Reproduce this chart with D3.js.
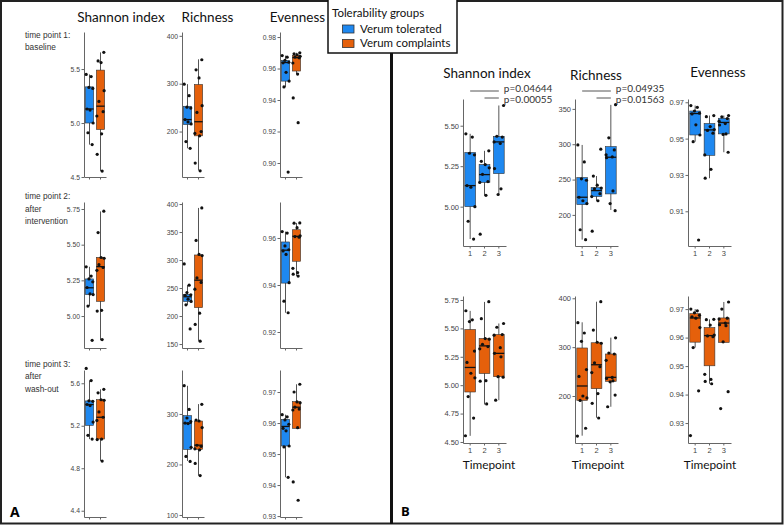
<!DOCTYPE html>
<html>
<head>
<meta charset="utf-8">
<script src="https://cdn.jsdelivr.net/npm/d3@7"></script>
<style>
  body { margin: 0; background: #fff; }
</style>
</head>
<body>
<svg id="fig" width="784" height="526"></svg>
<script>
var metrics = ["Shannon index", "Richness", "Evenness"];
var groups = ["Verum tolerated", "Verum complaints"];
var groupColors = ["#1E88F0", "#E5600B"];
var timepoints = ["1", "2", "3"];
var rowLabels = [
  ["time point 1:", "baseline"],
  ["time point 2:", "after", "intervention"],
  ["time point 3:", "after", "wash-out"]
];

// box stats per timepoint: [lower whisker, q1, median, q3, upper whisker]
var shannonTolBox = [[4.80, 5.00, 5.13, 5.335, 5.45], [5.07, 5.15, 5.198, 5.26, 5.345], [5.074, 5.204, 5.40, 5.434, 5.625]];
var shannonComBox = [[4.554, 4.94, 5.156, 5.49, 5.654], [4.83, 5.103, 5.346, 5.411, 5.733], [4.868, 5.075, 5.28, 5.446, 5.543]];
var richTolBox = [[165, 214.6, 225, 252.8, 299], [219.8, 226, 234.4, 238.7, 255], [207, 229.7, 281.6, 296.7, 355.7]];
var richComBox = [[118.8, 191, 220.5, 298.3, 350.9], [155.6, 215, 264, 309, 393], [178, 230, 238.2, 286, 319.5]];
var evenTolBox = [[0.9483, 0.952, 0.9638, 0.9652, 0.9682], [0.9282, 0.9408, 0.9548, 0.9583, 0.9627], [0.9425, 0.9526, 0.9589, 0.9612, 0.9627]];
var evenComBox = [[0.9565, 0.9584, 0.9669, 0.9684, 0.970], [0.9438, 0.9501, 0.9607, 0.9635, 0.9664], [0.9585, 0.9583, 0.9651, 0.9669, 0.9725]];

// single samples per timepoint
var shannonTolPts = [
  [5.45, 5.43, 5.33, 5.32, 5.13, 5.12, 5.00, 4.91, 4.80],
  [5.345, 5.28, 5.26, 5.24, 5.20, 5.155, 5.15, 5.07, 4.83],
  [5.74, 5.625, 5.435, 5.43, 5.40, 5.39, 5.235, 5.11, 5.075]
];
var shannonComPts = [
  [5.655, 5.575, 5.56, 5.30, 5.20, 5.105, 5.065, 4.90, 4.71, 4.555],
  [5.735, 5.585, 5.41, 5.405, 5.36, 5.34, 5.32, 5.04, 5.035, 4.835],
  [5.543, 5.51, 5.445, 5.44, 5.33, 5.28, 5.25, 5.075, 5.07, 4.868]
];
var richTolPts = [
  [299, 275, 251, 249, 225, 220, 216, 179, 165],
  [293, 255, 242, 238, 237, 230, 226, 220, 177],
  [356, 309, 292, 285, 282, 281, 234, 216, 206]
];
var richComPts = [
  [350, 329, 312, 254, 240, 200, 196, 191, 134, 118],
  [393, 335, 310, 308, 268, 260, 248, 205, 185, 155],
  [319, 288, 286, 273, 238, 236, 231, 229, 202, 178]
];
var evenTolPts = [
  [0.9682, 0.9672, 0.9652, 0.964, 0.9636, 0.9576, 0.952, 0.9483, 0.8942],
  [0.9627, 0.9621, 0.9566, 0.955, 0.9545, 0.953, 0.941, 0.9331, 0.9282],
  [0.9627, 0.962, 0.961, 0.9596, 0.9583, 0.9575, 0.9526, 0.9523, 0.9425]
];
var evenComPts = [
  [0.970, 0.9694, 0.9687, 0.9678, 0.9673, 0.9668, 0.9635, 0.9565, 0.9413, 0.9256],
  [0.9664, 0.9663, 0.9644, 0.9609, 0.9606, 0.9603, 0.9471, 0.9453, 0.9446, 0.9438],
  [0.9725, 0.970, 0.9668, 0.9665, 0.9651, 0.9645, 0.9642, 0.9585, 0.941, 0.9351]
];

// y limits and tick labels, panel A [timepoint][metric]
var aDomains = [
  [[4.5, 5.843], [105, 408], [0.8911, 0.9832]],
  [[4.776, 5.799], [142.9, 403.6], [0.9132, 0.9753]],
  [[4.341, 5.725], [96, 387], [0.9297, 0.9771]]
];
var aTicks = [
  [["4.5", "5.0", "5.5"], ["200", "300", "400"], ["0.90", "0.92", "0.94", "0.96", "0.98"]],
  [["5.00", "5.25", "5.50", "5.75"], ["150", "200", "250", "300", "350", "400"], ["0.92", "0.94", "0.96"]],
  [["4.4", "4.8", "5.2", "5.6"], ["100", "200", "300"], ["0.93", "0.94", "0.95", "0.96", "0.97"]]
];
// panel B [group][metric]
var bDomains = [
  [[4.757, 5.665], [156, 364], [0.8909, 0.9718]],
  [[4.491, 5.785], [103.8, 404.7], [0.923, 0.9746]]
];
var bTicks = [
  [["5.00", "5.25", "5.50"], ["200", "250", "300", "350"], ["0.91", "0.93", "0.95", "0.97"]],
  [["4.50", "4.75", "5.00", "5.25", "5.50", "5.75"], ["200", "300", "400"], ["0.93", "0.94", "0.95", "0.96", "0.97"]]
];
// pairwise tests shown for the tolerated group
var shannonSig = [["1", "3", "p=0.04644"], ["2", "3", "p=0.00055"]];
var richSig = [["1", "3", "p=0.04935"], ["2", "3", "p=0.01563"]];

var boxes = [[shannonTolBox, shannonComBox], [richTolBox, richComBox], [evenTolBox, evenComBox]];
var points = [[shannonTolPts, shannonComPts], [richTolPts, richComPts], [evenTolPts, evenComPts]];
var sigs = [shannonSig, richSig, null];

var svg = d3.select("#fig");
var jitter = [-0.3, 0.15, -0.05, 0.3, -0.22, 0.05, 0.33, -0.14, 0.24, -0.33, 0.1];

function drawPanel(o) {
  var g = svg.append("g");
  var y = d3.scaleLinear().domain(o.domain).range([o.bottom, o.top]);
  var x = d3.scaleBand().domain(o.cats).range([o.x0, o.x0 + o.width]);
  var step = x.bandwidth();
  var bw = step * 0.75;

  var ya = d3.axisLeft(y)
    .tickValues(o.ticks.map(Number))
    .tickFormat(function(d, i) { return o.ticks[i]; })
    .tickSize(2.5).tickSizeOuter(0).tickPadding(1.5);
  var xa = d3.axisBottom(x)
    .tickSize(2.5).tickSizeOuter(0).tickPadding(2)
    .tickFormat(function(d) { return o.xlabels ? d : ""; });

  var gy = g.append("g").attr("transform", "translate(" + o.x0 + ",0)").call(ya);
  var gx = g.append("g").attr("transform", "translate(0," + o.bottom + ")").call(xa);
  [gy, gx].forEach(function(a) {
    a.select(".domain").attr("stroke", "#666").attr("stroke-width", 1);
    a.selectAll(".tick line").attr("stroke", "#666");
    a.selectAll("text").attr("fill", "#444")
      .style("font-family", "'Liberation Sans', Arial, sans-serif")
      .style("font-size", o.fs + "px");
  });

  o.cats.forEach(function(c, i) {
    var b = o.boxes[i];
    var cx = x(c) + step / 2;
    var col = o.colors[i];
    g.append("line").attr("x1", cx).attr("x2", cx)
      .attr("y1", y(b[0])).attr("y2", y(b[4]))
      .attr("stroke", "#555").attr("stroke-width", 1);
    g.append("rect")
      .attr("x", cx - bw / 2).attr("width", bw)
      .attr("y", y(b[3])).attr("height", y(b[1]) - y(b[3]))
      .attr("fill", col).attr("stroke", "#333").attr("stroke-width", 0.6);
    g.append("line").attr("x1", cx - bw / 2).attr("x2", cx + bw / 2)
      .attr("y1", y(b[2])).attr("y2", y(b[2]))
      .attr("stroke", "#111").attr("stroke-width", 1.3);

    var pts = o.points[i].filter(function(v) {
      return !o.clip || (v >= o.domain[0] && v <= o.domain[1]);
    });
    g.selectAll(null).data(pts).enter().append("circle")
      .attr("cx", function(d, k) { return cx + jitter[(k + i * 3) % jitter.length] * step; })
      .attr("cy", function(d) { return y(d); })
      .attr("r", 1.6)
      .attr("fill", "#111");
  });

  if (o.sig) {
    o.sig.forEach(function(s, k) {
      var ly = o.top - 8 + k * 7;
      var xa1 = x(s[0]) + step / 2, xa2 = x(s[1]) + step / 2;
      g.append("line").attr("x1", xa1).attr("x2", xa2)
        .attr("y1", ly).attr("y2", ly)
        .attr("stroke", "#555").attr("stroke-width", 1);
      g.append("text").attr("x", xa2 + 5).attr("y", ly + (k === 0 ? 1 : 5))
        .attr("fill", "#333")
        .style("font-family", "Lato, sans-serif").style("font-size", "10px")
        .text(s[2]);
    });
  }
  return g;
}

// frame and divider
svg.append("rect").attr("x", 1).attr("y", 1).attr("width", 781.5).attr("height", 522.5)
  .attr("fill", "none").attr("stroke", "#222").attr("stroke-width", 2);
svg.append("line").attr("x1", 391.5).attr("x2", 391.5).attr("y1", 53).attr("y2", 524)
  .attr("stroke", "#111").attr("stroke-width", 3);

var titleFont = "Lato, 'Open Sans', sans-serif";

// panel A: rows = timepoints, columns = metrics, two groups per plot
var aAxisX = [84, 182, 280];
var aRows = [[32, 177], [202, 348], [370, 517]];
var aTitleX = [121, 207.5, 297.5];
var aLabelY = [37.7, 199.3, 366.7];

metrics.forEach(function(m, j) {
  svg.append("text").attr("x", aTitleX[j]).attr("y", 22)
    .attr("text-anchor", "middle").attr("fill", "#111")
    .style("font-family", titleFont).style("font-size", "13.5px").text(m);
});

timepoints.forEach(function(t, r) {
  var lab = svg.append("text").attr("fill", "#333")
    .style("font-family", "'Liberation Sans', Arial, sans-serif").style("font-size", "8.3px");
  rowLabels[r].forEach(function(s, k) {
    lab.append("tspan").attr("x", 25).attr("y", aLabelY[r] + k * 12.5).text(s);
  });
  metrics.forEach(function(m, j) {
    drawPanel({
      x0: aAxisX[j], width: 22, top: aRows[r][0], bottom: aRows[r][1],
      domain: aDomains[r][j], ticks: aTicks[r][j], cats: groups,
      boxes: groups.map(function(g, gi) { return boxes[j][gi][r]; }),
      points: groups.map(function(g, gi) { return points[j][gi][r]; }),
      colors: groupColors, fs: 6.8, xlabels: false, clip: false
    });
  });
});

// panel B: rows = groups, columns = metrics, timepoints along x
var bAxisX = [463, 575, 688];
var bRows = [[99, 246], [296, 443]];
var bTitle = [[487, 78], [596, 80], [718, 77]];
var bXlabel = [489, 598, 710];

metrics.forEach(function(m, j) {
  svg.append("text").attr("x", bTitle[j][0]).attr("y", bTitle[j][1])
    .attr("text-anchor", "middle").attr("fill", "#111")
    .style("font-family", titleFont).style("font-size", "13.5px").text(m);
  svg.append("text").attr("x", bXlabel[j]).attr("y", 469)
    .attr("text-anchor", "middle").attr("fill", "#111")
    .style("font-family", titleFont).style("font-size", "11.8px").text("Timepoint");
});

groups.forEach(function(g, gi) {
  metrics.forEach(function(m, j) {
    drawPanel({
      x0: bAxisX[j], width: 43, top: bRows[gi][0], bottom: bRows[gi][1],
      domain: bDomains[gi][j], ticks: bTicks[gi][j], cats: timepoints,
      boxes: boxes[j][gi], points: points[j][gi],
      colors: timepoints.map(function() { return groupColors[gi]; }),
      fs: 7.5, xlabels: true, clip: true,
      sig: gi === 0 ? sigs[j] : null
    });
  });
});

// panel letters
svg.append("text").attr("x", 10).attr("y", 517).attr("fill", "#000")
  .style("font-family", "'Open Sans', sans-serif").style("font-weight", "bold").style("font-size", "14px").text("A");
svg.append("text").attr("x", 401).attr("y", 516).attr("fill", "#000")
  .style("font-family", "'Open Sans', sans-serif").style("font-weight", "bold").style("font-size", "13px").text("B");

// legend
var leg = svg.append("g");
leg.append("rect").attr("x", 328).attr("y", -2).attr("width", 129).attr("height", 55)
  .attr("fill", "#fff").attr("stroke", "#111").attr("stroke-width", 1.5);
leg.append("text").attr("x", 332).attr("y", 17).attr("fill", "#111")
  .style("font-family", titleFont).style("font-size", "11.5px").text("Tolerability groups");
groups.forEach(function(g, gi) {
  leg.append("rect").attr("x", 342.5).attr("y", 25 + gi * 14.5).attr("width", 11.5).attr("height", 8)
    .attr("fill", groupColors[gi]).attr("stroke", "#333").attr("stroke-width", 0.8);
  leg.append("text").attr("x", 360).attr("y", 32.5 + gi * 14).attr("fill", "#111")
    .style("font-family", titleFont).style("font-size", "11.5px").text(g);
});
</script>
</body>
</html>
